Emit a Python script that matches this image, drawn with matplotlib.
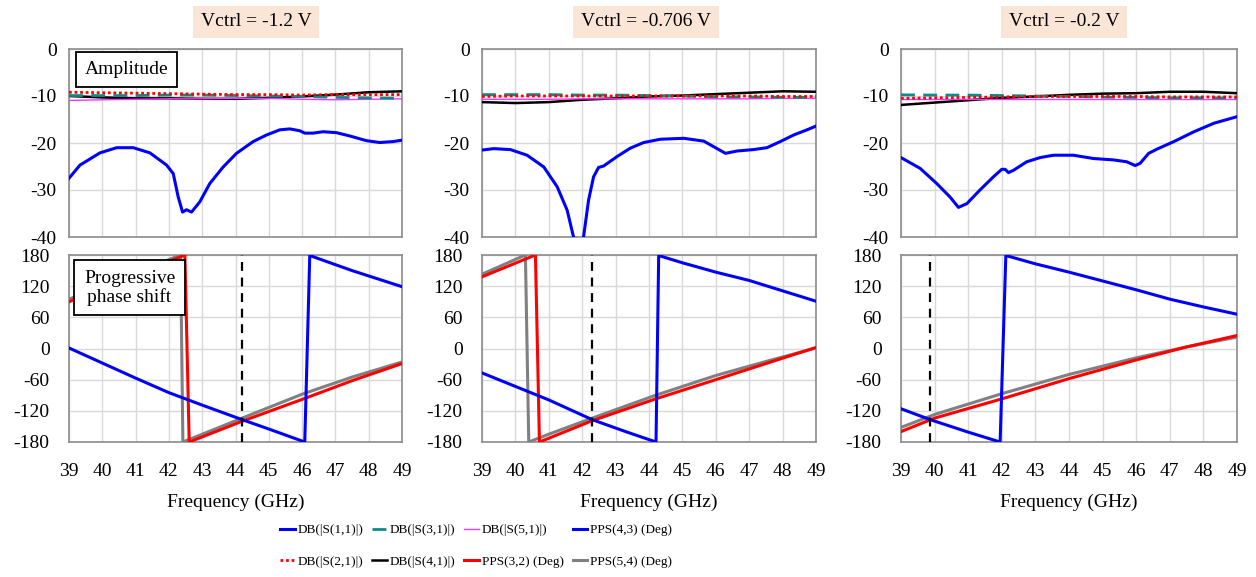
import numpy as np
import matplotlib
matplotlib.use('Agg')
import matplotlib.pyplot as plt

plt.rcParams['font.family'] = ['Liberation Serif', 'DejaVu Serif']
plt.rcParams['axes.unicode_minus'] = False

# ---- data ----
titles = ['Vctrl = -1.2 V', 'Vctrl = -0.706 V', 'Vctrl = -0.2 V']
marker_freq = [44.2, 42.3, 39.87]

f_int = [39, 40, 41, 42, 43, 44, 45, 46, 47, 48, 49]

# |S11| (dB)
s11_f = [
    [39, 39.33, 39.93, 40.43, 40.93, 41.43, 41.93, 42.13, 42.28, 42.41, 42.53, 42.68, 42.93,
     43.23, 43.63, 44.03, 44.53, 44.93, 45.33, 45.63, 45.93, 46.08, 46.33, 46.63, 47.03,
     47.43, 47.93, 48.33, 48.73, 49],
    [39, 39.35, 39.85, 40.35, 40.85, 41.25, 41.55, 41.74, 41.88, 42.04, 42.19, 42.34, 42.49,
     42.64, 43.04, 43.44, 43.84, 44.34, 45.04, 45.64, 45.94, 46.29, 46.64, 47.13, 47.53,
     47.93, 48.33, 48.73, 49],
    [39, 39.57, 40.06, 40.46, 40.71, 40.96, 41.35, 41.75, 42.0, 42.1, 42.2, 42.35, 42.74,
     43.14, 43.54, 44.13, 44.73, 45.33, 45.72, 45.97, 46.12, 46.37, 46.62, 47.12, 47.72,
     48.31, 49],
]
s11_db = [
    [-27.5, -24.7, -22.1, -21.0, -21.0, -22.1, -24.7, -26.5, -31.5, -34.7, -34.2, -34.7, -32.5,
     -28.6, -25.1, -22.2, -19.7, -18.3, -17.2, -17.0, -17.4, -17.9, -17.9, -17.6, -17.8,
     -18.5, -19.5, -19.9, -19.7, -19.4],
    [-21.5, -21.2, -21.4, -22.6, -25.1, -29.3, -34.3, -40.0, -46.0, -40.0, -32.2, -27.2, -25.2,
     -24.9, -22.9, -21.1, -19.9, -19.2, -19.0, -19.6, -20.8, -22.2, -21.7, -21.4, -21.0,
     -19.7, -18.3, -17.2, -16.4],
    [-23.1, -25.4, -28.6, -31.5, -33.7, -32.9, -30.0, -27.2, -25.6, -25.6, -26.3, -25.8, -24.0,
     -23.1, -22.6, -22.6, -23.3, -23.6, -24.0, -24.8, -24.3, -22.2, -21.3, -19.7, -17.6,
     -15.8, -14.4],
]

# |S21|..|S51| (dB) at integer frequencies
s21_db = [
    [-9.2, -9.3, -9.4, -9.5, -9.6, -9.7, -9.7, -9.8, -9.7, -9.7, -9.7],
    [-10.1, -10.0, -10.0, -10.0, -10.0, -10.0, -10.0, -10.0, -10.0, -10.1, -10.1],
    [-10.5, -10.4, -10.3, -10.2, -10.1, -10.1, -10.1, -10.1, -10.2, -10.2, -10.2],
]
s31_db = [
    [-9.9, -9.9, -9.9, -9.8, -9.8, -9.9, -10.0, -10.1, -10.3, -10.4, -10.5],
    [-9.7, -9.7, -9.7, -9.8, -9.8, -9.9, -10.0, -10.2, -10.2, -10.3, -10.3],
    [-9.75, -9.8, -9.8, -9.9, -10.0, -10.1, -10.25, -10.3, -10.4, -10.4, -10.45],
]
s41_db = [
    [-10.0, -10.3, -10.5, -10.5, -10.6, -10.6, -10.4, -10.1, -9.7, -9.2, -9.0],
    [-11.3, -11.5, -11.3, -10.8, -10.5, -10.1, -9.9, -9.6, -9.3, -9.0, -9.1],
    [-11.9, -11.4, -10.9, -10.4, -10.1, -9.75, -9.5, -9.4, -9.1, -9.1, -9.4],
]
s51_db = [
    [-10.95, -10.8, -10.7, -10.6, -10.6, -10.5, -10.5, -10.7, -10.8, -10.7, -10.6],
    [-10.7, -10.7, -10.7, -10.6, -10.6, -10.6, -10.6, -10.6, -10.6, -10.5, -10.5],
    [-10.7, -10.7, -10.7, -10.7, -10.7, -10.7, -10.7, -10.7, -10.7, -10.7, -10.7],
]

# progressive phase shifts (deg), including the steep wrap from +180 to -180
pps43_f = [
    [39, 40, 41, 42, 43, 44.2, 45, 46.08, 46.23, 47.5, 49],
    [39, 40, 41, 42.3, 43.3, 44.21, 44.29, 45, 46, 47, 48, 49],
    [39, 39.87, 41, 41.95, 42.12, 43, 44, 45, 46, 47, 48, 49],
]
pps43_deg = [
    [1, -28, -57, -85, -109, -137, -155, -180, 179, 150, 119],
    [-47, -73, -99, -137, -160, -180, 179, 165, 147, 131, 111, 91],
    [-116, -137, -161, -180, 179, 163, 147, 130, 113, 95, 80, 66],
]
pps32_f = [
    [39, 42.48, 42.61, 44.2, 46, 47.5, 49],
    [39, 40.6, 40.72, 42.3, 44.2, 46, 47.5, 49],
    [39, 40, 42, 44, 46, 47.5, 49],
]
pps32_deg = [
    [90, 180, -180, -140, -98, -62, -29],
    [138, 180, -180, -139, -97, -60, -29, 2],
    [-160, -134, -97, -58, -22, 3, 25],
]
pps54_f = [
    [39, 42.35, 42.42, 44.2, 46, 47.5, 49],
    [39, 40.3, 40.4, 41, 42.3, 44.2, 46, 47.5, 49],
    [39, 40, 42, 44, 46, 47.5, 49],
]
pps54_deg = [
    [95, 180, -180, -134, -88, -55, -26],
    [143, 180, -180, -165, -134, -90, -52, -25, 1],
    [-152, -127, -87, -50, -18, 3, 22],
]

BLUE = '#0000ff'
TEAL = '#108a86'
MAG = '#ff33ff'
RED = '#ff0000'
GRAY = '#808080'

W, H = 1256, 577
fig = plt.figure(figsize=(W / 100, H / 100), dpi=100)

lefts = [69, 482, 901]
widths = [333, 334, 336]
title_x = [256, 646, 1064]


def style(ax):
    for sp in ax.spines.values():
        sp.set_color('#8c8c8c')
        sp.set_linewidth(1.2)
    ax.grid(True, color='#d9d9d9', linewidth=1.0)
    ax.set_axisbelow(True)
    ax.tick_params(length=0, labelsize=14)
    ax.set_xlim(39, 49)
    ax.set_xticks(range(39, 50))


handles = []
for i in range(3):
    l = lefts[i] / W
    w = widths[i] / W
    ax1 = fig.add_axes([l, 1 - 237 / H, w, 188 / H])
    ax2 = fig.add_axes([l, 1 - 442 / H, w, 187 / H])
    style(ax1)
    style(ax2)

    ax1.set_ylim(-40, 0)
    ax1.set_yticks([0, -10, -20, -30, -40])
    ax1.set_xticklabels([])
    ax1.tick_params(axis='y', pad=9)

    h21, = ax1.plot(f_int, s21_db[i], color=RED, lw=2, ls=(0, (1, 1)), label='DB(|S(2,1)|)', zorder=5)
    h31, = ax1.plot(f_int, s31_db[i], color=TEAL, lw=2, ls=(0, (5, 3)), label='DB(|S(3,1)|)', zorder=4)
    h41, = ax1.plot(f_int, s41_db[i], color='black', lw=1.8, label='DB(|S(4,1)|)', zorder=3)
    h51, = ax1.plot(f_int, s51_db[i], color=MAG, lw=1.0, label='DB(|S(5,1)|)', zorder=3)
    h11, = ax1.plot(s11_f[i], s11_db[i], color=BLUE, lw=2.2, label='DB(|S(1,1)|)', zorder=6)

    ax2.set_ylim(-180, 180)
    ax2.set_yticks([180, 120, 60, 0, -60, -120, -180])
    ax2.tick_params(axis='y', pad=14)
    ax2.tick_params(axis='x', pad=15)
    h54, = ax2.plot(pps54_f[i], pps54_deg[i], color=GRAY, lw=2.2, label='PPS(5,4) (Deg)', zorder=3)
    h32, = ax2.plot(pps32_f[i], pps32_deg[i], color=RED, lw=2.2, label='PPS(3,2) (Deg)', zorder=4)
    h43, = ax2.plot(pps43_f[i], pps43_deg[i], color=BLUE, lw=2.2, label='PPS(4,3) (Deg)', zorder=5)
    ax2.axvline(marker_freq[i], color='black', ls=(0, (4, 3)), lw=1.6, zorder=6)
    ax2.set_xlabel('Frequency (GHz)', fontsize=14, labelpad=10)

    fig.text(title_x[i] / W, 1 - 22 / H, titles[i], fontsize=14, ha='center', va='center',
             bbox=dict(boxstyle='square,pad=0.4', facecolor='#fbe5d6', edgecolor='none'))

    if i == 0:
        ax1.text(0.048, 0.935, 'Amplitude', transform=ax1.transAxes, fontsize=14,
                 ha='left', va='top', zorder=10,
                 bbox=dict(boxstyle='square,pad=0.45', facecolor='white', edgecolor='black', lw=1.3))
        ax2.text(0.045, 0.92, 'Progressive\nphase shift', transform=ax2.transAxes, fontsize=14,
                 ha='left', va='top', zorder=10, multialignment='center', linespacing=1.05,
                 bbox=dict(boxstyle='square,pad=0.5', facecolor='white', edgecolor='black', lw=1.3))
        handles = [h11, h21, h31, h41, h51, h32, h43, h54]

fig.legend(handles, [h.get_label() for h in handles], ncol=4, loc='center',
           bbox_to_anchor=(476 / W, 1 - 546 / H), frameon=False, fontsize=9.5,
           handlelength=1.1, handletextpad=0.2, columnspacing=0.7, labelspacing=1.45)

fig.savefig('out.png', dpi=100, facecolor='white')
